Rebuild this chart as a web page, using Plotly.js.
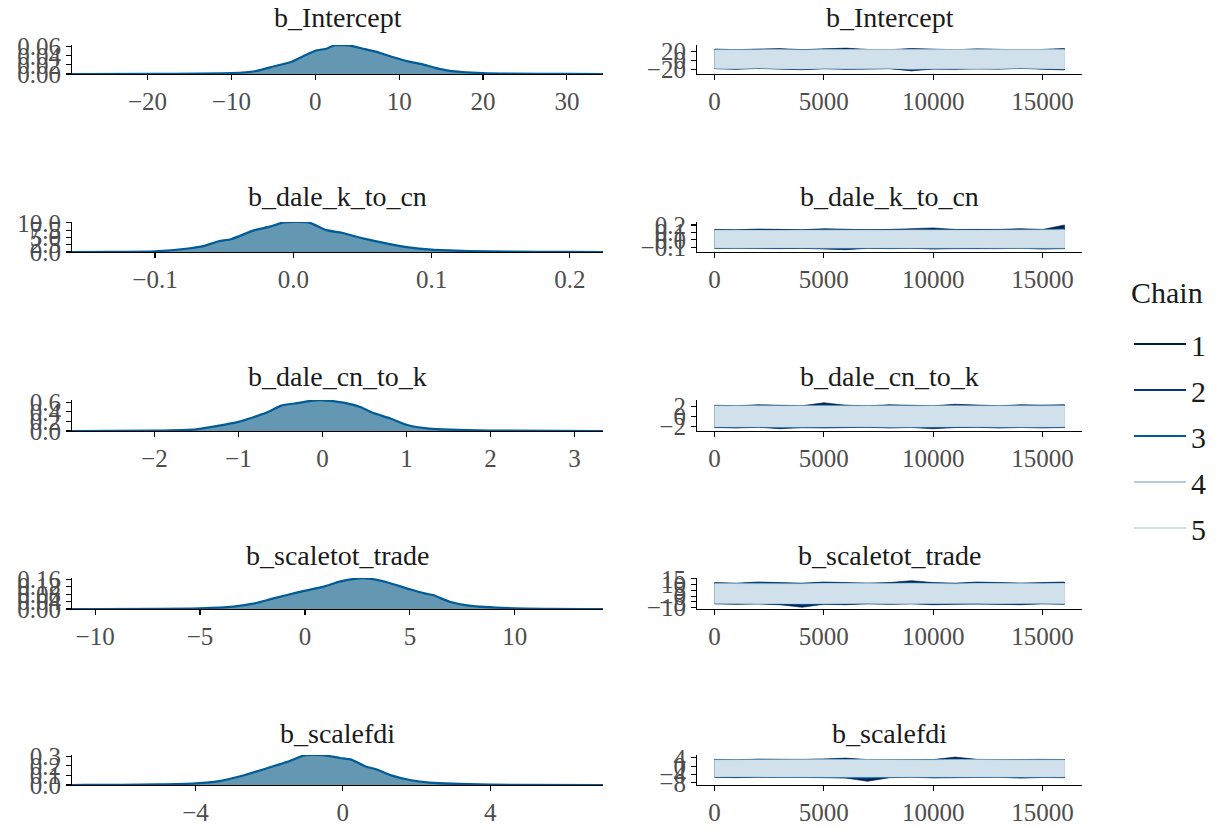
<!DOCTYPE html>
<html><head><meta charset="utf-8">
<script src="https://cdn.plot.ly/plotly-3.0.1.min.js"></script>
<style>
body{margin:0;background:#fff}
#chart{width:1218px;height:828px}
#chart svg text{font-family:"Liberation Serif","Times New Roman",serif !important;}
</style>
</head><body><div id="chart"></div>
<script>
// ---------- data ----------
const paramNames = ['b_Intercept','b_dale_k_to_cn','b_dale_cn_to_k','b_scaletot_trade','b_scalefdi'];
const chainNames = ['1','2','3','4','5'];
const chainColors = ['#011f4b','#03396c','#005b96','#b3cde0','#d1e1ec'];

// density curves (value, density)
const densX_Intercept = [-29,-19,-10,-7.2,-4.9,-2.8,-1.2,0,1.4,2.3,4,5.6,7.2,9.1,11.2,12.8,14.2,16,20,23,30,34.3];
const densY_Intercept = [0,0.0003,0.002,0.006,0.017,0.027,0.041,0.051,0.056,0.063,0.063,0.056,0.049,0.038,0.027,0.021,0.014,0.007,0.002,0.0008,0.0001,0];
const densX_kToCn = [-0.16,-0.13,-0.1,-0.076,-0.065,-0.054,-0.045,-0.028,-0.017,-0.007,0.011,0.024,0.035,0.051,0.068,0.082,0.1,0.127,0.155,0.2,0.224];
const densY_kToCn = [0,0.05,0.23,1.2,2.0,3.7,4.4,7.5,8.7,10.2,10.2,7.5,6.6,4.6,2.9,1.7,0.8,0.35,0.12,0.02,0];
const densX_cnToK = [-2.98,-2,-1.5,-1,-0.67,-0.49,-0.3,-0.12,0.02,0.25,0.45,0.6,0.81,1,1.27,2,3.34];
const densY_cnToK = [0,0.007,0.035,0.19,0.38,0.53,0.58,0.635,0.64,0.59,0.5,0.38,0.26,0.13,0.05,0.007,0];
const densX_trade = [-11.1,-5,-3.4,-2.4,-1.5,-0.4,0.9,1.65,2.6,3.1,3.9,5,5.7,6.1,6.9,7.8,10,14.2];
const densY_trade = [0,0.004,0.013,0.03,0.057,0.088,0.12,0.147,0.165,0.163,0.144,0.106,0.084,0.075,0.039,0.018,0.004,0];
const densX_fdi = [-7.35,-7,-5,-4,-3.36,-2.73,-2.1,-1.46,-1.04,-0.5,-0.08,0.23,0.6,0.92,1.29,1.82,2.35,4,7.06];
const densY_fdi = [0,0.0005,0.006,0.017,0.041,0.096,0.17,0.248,0.31,0.31,0.282,0.265,0.196,0.162,0.103,0.052,0.024,0.003,0];

// trace envelopes per chain (iteration grid, upper and lower reach of each chain)
const traceIter = [1,1000,2000,3000,4000,5000,6000,7000,8000,9000,10000,11000,12000,13000,14000,15000,16000];
const hi_Intercept = [
  [26,24.5,26,27,24.5,26,28,25,24.5,27,25,24.5,26,25,24.5,25,27],
  [25,24,25,25,24,26,26,25,24,26,25,24,26,25,24,25,26],
  [24.5,23.8,24.5,25,23.8,25,25.5,24.5,23.8,25,24.5,23.8,25,24.5,23.8,24.5,25],
  [24,23.5,24,24.5,23.5,24.5,24.5,24,23.5,24.5,24,23.5,24.5,24,24,24,24.5],
  [23.5,23,23.5,24,23,24,24,23.5,23,24,23.5,23,24,23.5,23,23.5,24]];
const lo_Intercept = [
  [-18,-19.5,-17.5,-19,-20.5,-18,-19.5,-19,-18,-23,-19,-19.5,-18,-19,-17.5,-19.5,-21],
  [-17.8,-18.5,-17,-18.5,-19.5,-17.8,-18.5,-18.5,-17.8,-20,-18.5,-18.5,-17.8,-18.5,-17,-18.5,-19.5],
  [-17.5,-18,-16.8,-18,-19,-17.5,-18,-18,-17.5,-19.5,-18,-18,-17.5,-18,-16.8,-18,-19],
  [-17,-17.6,-16.5,-17.6,-18.5,-17,-17.6,-17.6,-17,-19,-17.6,-17.6,-17,-17.6,-16.5,-17.6,-18.5],
  [-16.5,-17.2,-16,-17.2,-18,-16.5,-17.2,-17.2,-16.5,-18.5,-17.2,-17.2,-16.5,-17.2,-16,-17.2,-18]];
const hi_kToCn = [
  [0.14,0.135,0.145,0.14,0.135,0.15,0.14,0.135,0.14,0.15,0.16,0.14,0.135,0.14,0.15,0.14,0.2],
  [0.135,0.13,0.14,0.135,0.13,0.14,0.135,0.13,0.135,0.14,0.145,0.135,0.13,0.135,0.14,0.135,0.16],
  [0.13,0.128,0.135,0.13,0.128,0.135,0.13,0.128,0.13,0.135,0.14,0.13,0.128,0.13,0.135,0.13,0.145],
  [0.127,0.125,0.13,0.127,0.125,0.13,0.127,0.125,0.127,0.13,0.132,0.127,0.125,0.127,0.13,0.127,0.135],
  [0.123,0.122,0.126,0.123,0.122,0.126,0.123,0.122,0.123,0.126,0.127,0.123,0.122,0.123,0.126,0.123,0.128]];
const lo_kToCn = [
  [-0.115,-0.12,-0.115,-0.12,-0.115,-0.12,-0.135,-0.115,-0.12,-0.115,-0.125,-0.12,-0.115,-0.12,-0.115,-0.125,-0.12],
  [-0.112,-0.116,-0.112,-0.116,-0.112,-0.116,-0.125,-0.112,-0.116,-0.112,-0.12,-0.116,-0.112,-0.116,-0.112,-0.12,-0.116],
  [-0.11,-0.113,-0.11,-0.113,-0.11,-0.113,-0.12,-0.11,-0.113,-0.11,-0.116,-0.113,-0.11,-0.113,-0.11,-0.116,-0.113],
  [-0.107,-0.11,-0.107,-0.11,-0.107,-0.11,-0.113,-0.107,-0.11,-0.107,-0.112,-0.11,-0.107,-0.11,-0.107,-0.112,-0.11],
  [-0.104,-0.107,-0.104,-0.107,-0.104,-0.107,-0.108,-0.104,-0.107,-0.104,-0.108,-0.107,-0.104,-0.107,-0.104,-0.108,-0.107]];
const hi_cnToK = [
  [2.25,2.15,2.35,2.25,2.15,2.75,2.25,2.15,2.35,2.25,2.15,2.45,2.25,2.15,2.35,2.25,2.35],
  [2.2,2.1,2.25,2.2,2.1,2.4,2.2,2.1,2.25,2.2,2.1,2.3,2.2,2.1,2.25,2.2,2.25],
  [2.15,2.07,2.2,2.15,2.07,2.25,2.15,2.07,2.2,2.15,2.07,2.2,2.15,2.07,2.2,2.15,2.2],
  [2.1,2.04,2.12,2.1,2.04,2.12,2.1,2.04,2.12,2.1,2.04,2.12,2.1,2.04,2.12,2.1,2.12],
  [2.05,2.0,2.08,2.05,2.0,2.08,2.05,2.0,2.08,2.05,2.0,2.08,2.05,2.0,2.08,2.05,2.08]];
const lo_cnToK = [
  [-2.2,-2.3,-2.15,-2.45,-2.2,-2.3,-2.2,-2.15,-2.3,-2.2,-2.45,-2.2,-2.15,-2.3,-2.2,-2.3,-2.2],
  [-2.15,-2.22,-2.1,-2.3,-2.15,-2.22,-2.15,-2.1,-2.22,-2.15,-2.3,-2.15,-2.1,-2.22,-2.15,-2.22,-2.15],
  [-2.1,-2.16,-2.06,-2.2,-2.1,-2.16,-2.1,-2.06,-2.16,-2.1,-2.2,-2.1,-2.06,-2.16,-2.1,-2.16,-2.1],
  [-2.05,-2.1,-2.02,-2.12,-2.05,-2.1,-2.05,-2.02,-2.1,-2.05,-2.12,-2.05,-2.02,-2.1,-2.05,-2.1,-2.05],
  [-2.0,-2.05,-1.98,-2.06,-2.0,-2.05,-2.0,-1.98,-2.05,-2.0,-2.06,-2.0,-1.98,-2.05,-2.0,-2.05,-2.0]];
const hi_trade = [
  [11.8,11.3,12.3,11.8,11.3,12.3,11.8,11.3,11.8,13.5,11.8,11.3,12.3,11.8,11.3,11.8,12.3],
  [11.4,11.0,11.8,11.4,11.0,11.8,11.4,11.0,11.4,12.3,11.4,11.0,11.8,11.4,11.0,11.4,11.8],
  [11.1,10.8,11.4,11.1,10.8,11.4,11.1,10.8,11.1,11.6,11.1,10.8,11.4,11.1,10.8,11.1,11.4],
  [10.8,10.6,11,10.8,10.6,11,10.8,10.6,10.8,11.1,10.8,10.6,11,10.8,10.6,10.8,11],
  [10.5,10.3,10.7,10.5,10.3,10.7,10.5,10.3,10.5,10.8,10.5,10.3,10.7,10.5,10.3,10.5,10.7]];
const lo_trade = [
  [-6.8,-7.2,-6.8,-7.6,-9.8,-7.2,-7.6,-6.8,-7.2,-6.8,-7.6,-7.2,-6.8,-7.2,-7.6,-6.8,-7.2],
  [-6.6,-6.9,-6.6,-7.1,-8.2,-6.9,-7.1,-6.6,-6.9,-6.6,-7.1,-6.9,-6.6,-6.9,-7.1,-6.6,-6.9],
  [-6.4,-6.6,-6.4,-6.8,-7.2,-6.6,-6.8,-6.4,-6.6,-6.4,-6.8,-6.6,-6.4,-6.6,-6.8,-6.4,-6.6],
  [-6.2,-6.4,-6.2,-6.5,-6.6,-6.4,-6.5,-6.2,-6.4,-6.2,-6.5,-6.4,-6.2,-6.4,-6.5,-6.2,-6.4],
  [-6.0,-6.2,-6.0,-6.3,-6.4,-6.2,-6.3,-6.0,-6.2,-6.0,-6.3,-6.2,-6.0,-6.2,-6.3,-6.0,-6.2]];
const hi_fdi = [
  [3.3,3.1,3.4,3.2,3.3,3.5,3.9,3.2,3.3,3.4,3.2,4.4,3.3,3.2,3.4,3.3,3.2],
  [3.2,3.05,3.3,3.15,3.2,3.35,3.5,3.15,3.2,3.3,3.15,3.8,3.2,3.15,3.3,3.2,3.15],
  [3.1,3.0,3.2,3.1,3.1,3.25,3.3,3.1,3.1,3.2,3.1,3.4,3.1,3.1,3.2,3.1,3.1],
  [3.0,2.95,3.05,3.0,2.95,3.1,3.1,3.0,3.0,3.05,3.0,3.1,3.0,2.95,3.05,3.0,3.0],
  [2.9,2.85,2.95,2.9,2.85,3.0,3.0,2.9,2.9,2.95,2.9,3.0,2.9,2.85,2.95,2.9,2.9]];
const lo_fdi = [
  [-5.3,-5.5,-5.2,-5.6,-5.4,-5.5,-5.7,-7.2,-5.5,-5.3,-5.6,-5.4,-5.5,-5.3,-5.7,-5.4,-5.5],
  [-5.2,-5.35,-5.1,-5.45,-5.3,-5.35,-5.5,-6.2,-5.35,-5.2,-5.45,-5.3,-5.35,-5.2,-5.5,-5.3,-5.35],
  [-5.1,-5.2,-5.0,-5.3,-5.2,-5.2,-5.35,-5.6,-5.2,-5.1,-5.3,-5.2,-5.2,-5.1,-5.35,-5.2,-5.2],
  [-5.0,-5.1,-4.95,-5.15,-5.1,-5.1,-5.2,-5.3,-5.1,-5.0,-5.15,-5.1,-5.1,-5.0,-5.2,-5.1,-5.1],
  [-4.9,-5.0,-4.85,-5.05,-5.0,-5.0,-5.1,-5.15,-5.0,-4.9,-5.05,-5.0,-5.0,-4.9,-5.1,-5.0,-5.0]];

// tick values
const densXTicks = [[-20,-10,0,10,20,30],[-0.1,0,0.1,0.2],[-2,-1,0,1,2,3],[-10,-5,0,5,10],[-4,0,4]];
const densXText  = [['−20','−10','0','10','20','30'],['−0.1','0.0','0.1','0.2'],['−2','−1','0','1','2','3'],['−10','−5','0','5','10'],['−4','0','4']];
const densYTicks = [[0,0.02,0.04,0.06],[0,2.5,5,7.5,10],[0,0.2,0.4,0.6],[0,0.04,0.08,0.12,0.16],[0,0.1,0.2,0.3]];
const densYText  = [['0.00','0.02','0.04','0.06'],['0.0','2.5','5.0','7.5','10.0'],['0.0','0.2','0.4','0.6'],['0.00','0.04','0.08','0.12','0.16'],['0.0','0.1','0.2','0.3']];
const traceXTicks = [0,5000,10000,15000];
const traceYTicks = [[-20,0,20],[-0.1,0,0.1,0.2],[-2,0,2],[-10,-5,0,5,10,15],[-8,-4,0,4]];
const traceYText  = [['−20','0','20'],['−0.1','0.0','0.1','0.2'],['−2','0','2'],['−10','−5','0','5','10','15'],['−8','−4','0','4']];

// ---------- build ----------
const densX = [densX_Intercept,densX_kToCn,densX_cnToK,densX_trade,densX_fdi];
const densY = [densY_Intercept,densY_kToCn,densY_cnToK,densY_trade,densY_fdi];
const his = [hi_Intercept,hi_kToCn,hi_cnToK,hi_trade,hi_fdi];
const los = [lo_Intercept,lo_kToCn,lo_cnToK,lo_trade,lo_fdi];

const densXRange = [[-29,34.3],[-0.16,0.224],[-2.98,3.34],[-11.1,14.2],[-7.35,7.06]];
const traceYRange = [[-30,35],[-0.165,0.24],[-2.9,3.3],[-11.3,15.8],[-9,5.4]];

const W = 1218, H = 828;
const rowTop = [45,222,400,578,755], rowBot = [74,252,431,609,785], titleY = [18,197,376,555,733];
const leftDom = [72/W, 603/W], rightDom = [697/W, 1082/W];
const FONT = 'Liberation Serif';

const data = [];
const layout = {
  width: W, height: H, margin: {l:0,r:0,t:0,b:0},
  paper_bgcolor: '#fff', plot_bgcolor: 'rgba(0,0,0,0)',
  font: {family: FONT, color: '#000'},
  showlegend: true,
  legend: {x: 1129/W, y: 1 - 318/H, xanchor: 'left', yanchor: 'top',
    font: {family: FONT, size: 30, color: '#1a1a1a'},
    tracegroupgap: 4, itemwidth: 52, bgcolor: 'rgba(0,0,0,0)'},
  annotations: [{xref: 'paper', yref: 'paper', x: 1129/W, y: 1 - 292/H, xanchor: 'left', yanchor: 'middle',
    showarrow: false, text: 'Chain', font: {family: FONT, size: 30, color: '#1a1a1a'}}]
};
function axisBase() {
  return {showline: true, linecolor: '#000', linewidth: 1.1, ticks: 'outside', ticklen: 5,
    tickcolor: '#000', tickwidth: 1.1, showgrid: false, zeroline: false, fixedrange: true,
    tickfont: {family: FONT, size: 25, color: '#4d4d4d'}, tickmode: 'array'};
}
for (let r = 0; r < 5; r++) {
  const iL = 2*r + 1, iR = 2*r + 2;
  const xL = iL === 1 ? 'x' : 'x' + iL, yL = iL === 1 ? 'y' : 'y' + iL;
  const xR = 'x' + iR, yR = 'y' + iR;
  const yDom = [1 - rowBot[r]/H, 1 - rowTop[r]/H];
  const peak = Math.max(...densY[r]);
  data.push({type: 'scatter', mode: 'lines', x: densX[r], y: densY[r], xaxis: xL, yaxis: yL,
    fill: 'tozeroy', fillcolor: '#6497b1', line: {color: '#005b96', width: 2.2, shape: 'spline', smoothing: 0.5},
    showlegend: false, hoverinfo: 'skip'});
  for (let c = 0; c < 5; c++) {
    const xs = traceIter.concat(traceIter.slice().reverse());
    const ys = his[r][c].concat(los[r][c].slice().reverse());
    data.push({type: 'scatter', mode: 'lines', x: xs, y: ys, xaxis: xR, yaxis: yR,
      fill: 'toself', fillcolor: chainColors[c], line: {color: chainColors[c], width: 0.6},
      showlegend: false, hoverinfo: 'skip', name: chainNames[c]});
  }
  layout['xaxis' + (iL === 1 ? '' : iL)] = Object.assign(axisBase(), {domain: leftDom, anchor: yL,
    range: densXRange[r], tickvals: densXTicks[r], ticktext: densXText[r]});
  layout['yaxis' + (iL === 1 ? '' : iL)] = Object.assign(axisBase(), {domain: yDom, anchor: xL,
    range: [0, peak * 1.01], tickvals: densYTicks[r], ticktext: densYText[r]});
  layout['xaxis' + iR] = Object.assign(axisBase(), {domain: rightDom, anchor: yR,
    range: [-799, 16800], tickvals: traceXTicks, ticktext: traceXTicks.map(String)});
  layout['yaxis' + iR] = Object.assign(axisBase(), {domain: yDom, anchor: xR,
    range: traceYRange[r], tickvals: traceYTicks[r], ticktext: traceYText[r]});
  [leftDom, rightDom].forEach((dom) => {
    layout.annotations.push({xref: 'paper', yref: 'paper', x: (dom[0] + dom[1]) / 2, y: 1 - titleY[r]/H,
      xanchor: 'center', yanchor: 'middle', showarrow: false, text: paramNames[r],
      font: {family: FONT, size: 28, color: '#1a1a1a'}});
  });
}
// legend entries (line keys)
for (let c = 0; c < 5; c++) {
  data.push({type: 'scatter', mode: 'lines', x: [null], y: [null], xaxis: 'x2', yaxis: 'y2',
    name: chainNames[c], legendgroup: 'g' + c, line: {color: chainColors[c], width: 2.2}, showlegend: true});
}
Plotly.newPlot('chart', data, layout, {staticPlot: true, displayModeBar: false});
</script></body></html>
